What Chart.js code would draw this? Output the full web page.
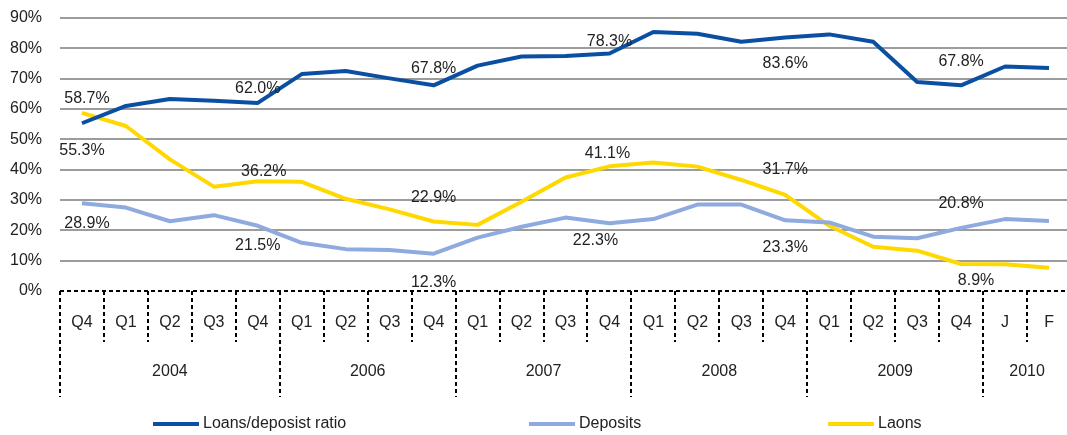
<!DOCTYPE html>
<html>
<head>
<meta charset="utf-8">
<script src="https://cdn.jsdelivr.net/npm/chart.js@4.4.1/dist/chart.umd.min.js"></script>
<style>
  html, body { margin: 0; padding: 0; background: #fff; overflow: hidden; }
  #wrap { width: 1071px; height: 435px; }
</style>
</head>
<body>
<div id="wrap"><canvas id="chart" width="1071" height="435"></canvas></div>
<script>
// categories
const quarters = ["Q4", "Q1", "Q2", "Q3", "Q4", "Q1", "Q2", "Q3", "Q4", "Q1", "Q2", "Q3",
  "Q4", "Q1", "Q2", "Q3", "Q4", "Q1", "Q2", "Q3", "Q4", "J", "F"];
const years = ["2004", "2006", "2007", "2008", "2009", "2010"];
const yearSpans = [5, 4, 4, 4, 4, 2];

// series values (%)
const ratio = [55.3, 61.0, 63.3, 62.7, 62.0, 71.5, 72.5, 70.1, 67.8, 74.3, 77.3, 77.5,
  78.3, 85.4, 84.8, 82.2, 83.6, 84.6, 82.2, 68.9, 67.8, 74.0, 73.5];
const deposits = [28.9, 27.5, 23.0, 25.0, 21.5, 15.9, 13.8, 13.5, 12.3, 17.6, 21.2, 24.2,
  22.3, 23.7, 28.5, 28.5, 23.3, 22.6, 17.9, 17.4, 20.8, 23.7, 23.1];
const loans = [58.7, 54.4, 43.4, 34.4, 36.2, 36.0, 30.4, 26.9, 22.9, 21.8, 29.4, 37.4,
  41.1, 42.4, 41.0, 36.6, 31.7, 21.5, 14.6, 13.3, 8.9, 8.8, 7.7];

// points that carry a value label
const labelIdx = [0, 4, 8, 12, 16, 20];

const FONT = '"Liberation Sans", Arial, sans-serif';
const TEXT = "#222";

// label placement relative to its point (style only)
const labelShift = {
  ratio:    { dx: [0, 0, 0, 0, 0, 0],     dy: [27, -14, -17, -12, 26, -24] },
  deposits: { dx: [5, 0, 0, -14, 0, 0],   dy: [20, 20, 29, 17, 27, -24] },
  loans:    { dx: [5, 6, 0, -2, 0, 15],   dy: [-14, -10, -24, -13, -25, 17] }
};

const valueLabels = {
  id: "valueLabels",
  afterDatasetsDraw(chart) {
    const ctx = chart.ctx;
    ctx.save();
    ctx.font = "16px " + FONT;
    ctx.fillStyle = TEXT;
    ctx.textAlign = "center";
    ctx.textBaseline = "middle";
    chart.data.datasets.forEach((ds, d) => {
      const meta = chart.getDatasetMeta(d);
      const shift = labelShift[ds.key];
      labelIdx.forEach((i, k) => {
        const pt = meta.data[i];
        ctx.fillText(ds.data[i].toFixed(1) + "%", pt.x + shift.dx[k], pt.y + shift.dy[k]);
      });
    });
    ctx.restore();
  }
};

// dashed two-level category table under the plot
const categoryTable = {
  id: "categoryTable",
  afterDraw(chart) {
    const ctx = chart.ctx;
    const x = chart.scales.x;
    const area = chart.chartArea;
    const half = (x.getPixelForValue(1) - x.getPixelForValue(0)) / 2;
    const edge = i => x.getPixelForValue(i) - half;
    const top = area.bottom;
    ctx.save();
    ctx.strokeStyle = "#000";
    ctx.lineWidth = 2;
    ctx.setLineDash([4, 3]);
    ctx.beginPath();
    ctx.moveTo(edge(0), top);
    ctx.lineTo(edge(quarters.length), top);
    ctx.stroke();

    const yearEdges = [0];
    yearSpans.forEach(s => yearEdges.push(yearEdges[yearEdges.length - 1] + s));
    for (let i = 0; i <= quarters.length; i++) {
      const bottom = yearEdges.includes(i) ? 397 : 342;
      ctx.beginPath();
      ctx.moveTo(Math.round(edge(i)), top);
      ctx.lineTo(Math.round(edge(i)), bottom);
      ctx.stroke();
    }
    ctx.setLineDash([]);
    ctx.font = "16px " + FONT;
    ctx.fillStyle = TEXT;
    ctx.textAlign = "center";
    ctx.textBaseline = "middle";
    years.forEach((y, k) => {
      const cx = (edge(yearEdges[k]) + edge(yearEdges[k + 1])) / 2;
      ctx.fillText(y, cx, 372);
    });
    ctx.restore();
  }
};

const lineLegend = {
  id: "lineLegend",
  afterDraw(chart) {
    const ctx = chart.ctx;
    const starts = [153, 529, 828];
    const y = 424;
    ctx.save();
    ctx.font = "16px " + FONT;
    ctx.textBaseline = "middle";
    ctx.textAlign = "left";
    chart.data.datasets.forEach((ds, d) => {
      ctx.strokeStyle = ds.borderColor;
      ctx.lineWidth = 4;
      ctx.beginPath();
      ctx.moveTo(starts[d], y);
      ctx.lineTo(starts[d] + 46, y);
      ctx.stroke();
      ctx.fillStyle = TEXT;
      ctx.fillText(ds.label, starts[d] + 50, y);
    });
    ctx.restore();
  }
};

new Chart(document.getElementById("chart"), {
  type: "line",
  data: {
    labels: quarters,
    datasets: [
      { key: "ratio", label: "Loans/deposist ratio", data: ratio, borderColor: "#0b4fa3" },
      { key: "deposits", label: "Deposits", data: deposits, borderColor: "#8eaadf" },
      { key: "loans", label: "Laons", data: loans, borderColor: "#ffd800" }
    ]
  },
  options: {
    responsive: false,
    animation: false,
    devicePixelRatio: 1,
    layout: { padding: { top: 18, left: 0, right: 0, bottom: 0 } },
    elements: {
      line: { borderWidth: 4, tension: 0, borderCapStyle: "butt", borderJoinStyle: "round" },
      point: { radius: 0, hoverRadius: 0 }
    },
    plugins: {
      legend: { display: false },
      tooltip: { enabled: false }
    },
    scales: {
      x: {
        offset: true,
        grid: { display: false, drawTicks: false },
        border: { display: false },
        ticks: {
          autoSkip: false,
          maxRotation: 0,
          padding: 22,
          color: TEXT,
          font: { family: FONT, size: 16 }
        },
        afterFit(scale) {
          scale.height = 144;
          scale.paddingLeft = 0;
          scale.paddingRight = 0;
        }
      },
      y: {
        min: 0,
        max: 90,
        border: { display: false },
        grid: {
          drawTicks: false,
          lineWidth: 2,
          color: c => (c.tick.value === 0 ? "rgba(0,0,0,0)" : "#9c9c9c")
        },
        ticks: {
          stepSize: 10,
          padding: 18,
          color: TEXT,
          font: { family: FONT, size: 16 },
          callback: v => v + "%"
        },
        afterFit(scale) {
          scale.width = 60;
          scale.paddingTop = 0;
          scale.paddingBottom = 0;
        }
      }
    }
  },
  plugins: [valueLabels, categoryTable, lineLegend]
});
</script>
</body>
</html>
